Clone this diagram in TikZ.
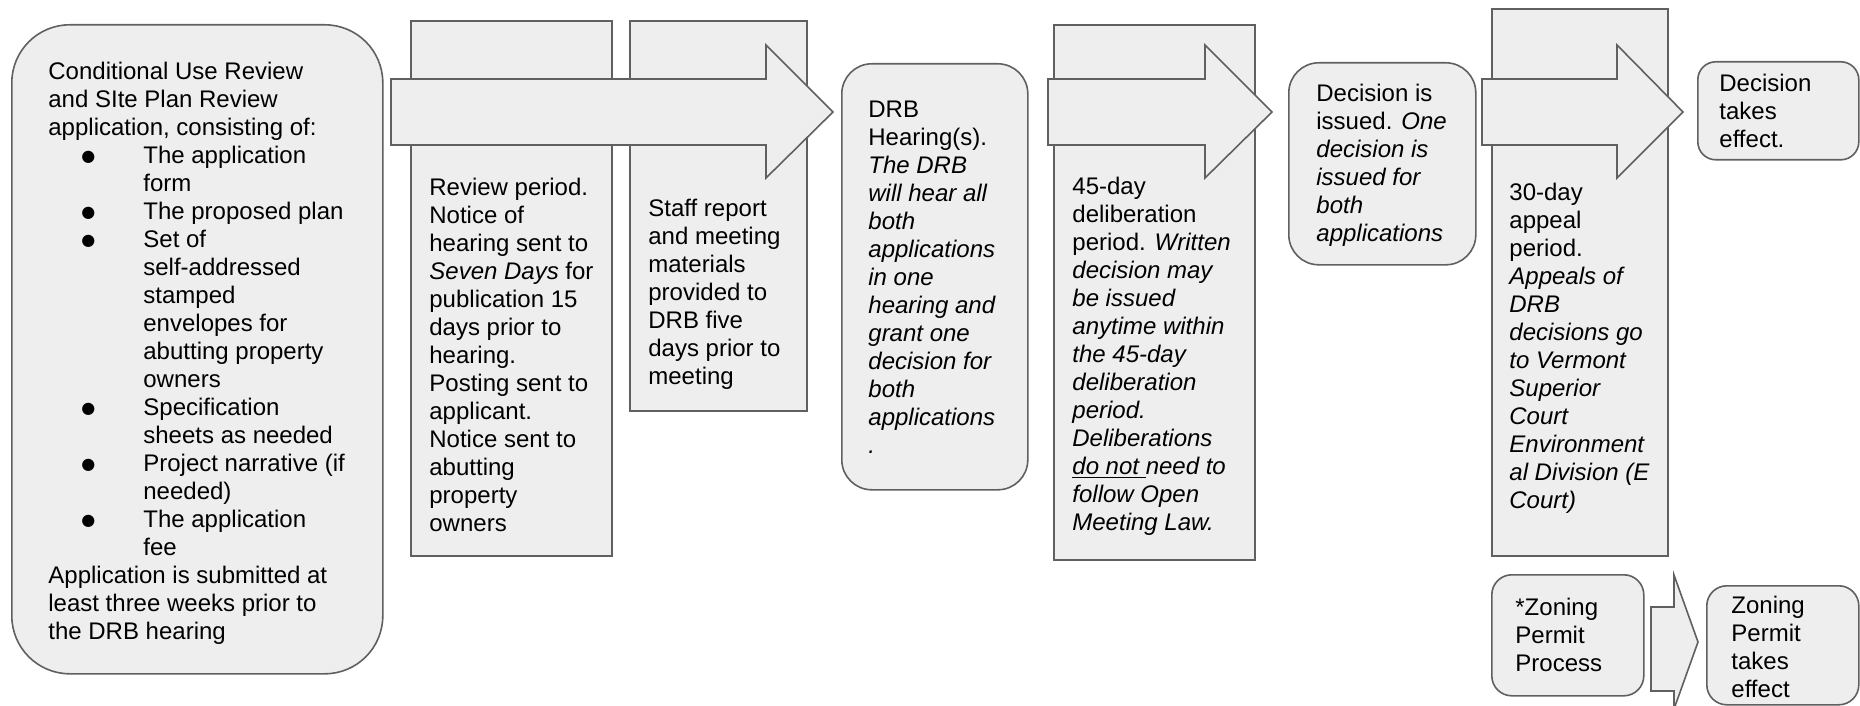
\documentclass[tikz,border=0pt]{standalone}
\usepackage{fontspec}
\setmainfont{Liberation Sans}
\newfontfamily\bulletfont{DejaVu Sans}
\definecolor{boxfill}{RGB}{238,238,238}
\definecolor{boxline}{RGB}{96,96,96}
% bullet item line and continuation line of the application list
\newcommand{\itembul}{\makebox[47.5pt][l]{\hspace*{16.5pt}\raisebox{1.2pt}{\bulletfont\fontsize{8pt}{8pt}\selectfont ●}}}
\newcommand{\itemcont}{\hspace*{47.5pt}}
\begin{document}
\begin{tikzpicture}[x=0.5pt,y=-0.5pt,
  shapebox/.style={draw=boxline,fill=boxfill,line width=0.8pt,inner sep=0pt,anchor=north west},
  blockarrow/.style={draw=boxline,fill=boxfill,line width=0.8pt},
  txt/.style={anchor=north west,inner sep=0pt,align=left,font=\fontsize{12pt}{14pt}\selectfont}]
\clip (0,0) rectangle (1860,706);

% application box
\node[shapebox,rounded corners=29pt,minimum width=185.5pt,minimum height=324.5pt] (app) at (11,24) {};
\node[txt] (apptxt) at (48,59.4) {\strut Conditional Use Review\\
and SIte Plan Review\\
application, consisting of:\\
\itembul The application\\
\itemcont form\\
\itembul The proposed plan\\
\itembul Set of\\
\itemcont self-addressed\\
\itemcont stamped\\
\itemcont envelopes for\\
\itemcont abutting property\\
\itemcont owners\\
\itembul Specification\\
\itemcont sheets as needed\\
\itembul Project narrative (if\\
\itemcont needed)\\
\itembul The application\\
\itemcont fee\\
Application is submitted at\\
least three weeks prior to\\
the DRB hearing};

% review period and staff report
\node[shapebox,minimum width=100.5pt,minimum height=267.5pt] (review) at (410,20) {};
\node[shapebox,minimum width=88.5pt,minimum height=195pt] (staff) at (629,20) {};
\draw[blockarrow] (391,79) -- (766,79) -- (766,45) -- (833,112) -- (766,178) -- (766,145) -- (391,145) -- cycle;
\node[txt] (reviewtxt) at (429,175.4) {\strut Review period.\\ Notice of\\ hearing sent to\\ \textit{Seven Days} for\\ publication 15\\ days prior to\\ hearing.\\ Posting sent to\\ applicant.\\ Notice sent to\\ abutting\\ property\\ owners};
\node[txt] (stafftxt) at (648,196.4) {\strut Staff report\\ and meeting\\ materials\\ provided to\\ DRB five\\ days prior to\\ meeting};

% hearing
\node[shapebox,rounded corners=15pt,minimum width=93pt,minimum height=213pt] (drb) at (841,63) {};
\node[txt] (drbtxt) at (868,97.4) {\strut DRB\\ Hearing(s).\\ \textit{The DRB}\\ \textit{will hear all}\\ \textit{both}\\ \textit{applications}\\ \textit{in one}\\ \textit{hearing and}\\ \textit{grant one}\\ \textit{decision for}\\ \textit{both}\\ \textit{applications}\\ \textit{.}};

% deliberation
\node[shapebox,minimum width=100.5pt,minimum height=267.5pt] (delib) at (1053,24) {};
\draw[blockarrow] (1048,79) -- (1205,79) -- (1205,45) -- (1272,112) -- (1205,178) -- (1205,145) -- (1048,145) -- cycle;
\node[txt] (delibtxt) at (1072,174.4) {\strut 45-day\\ deliberation\\ period. \textit{Written}\\ \textit{decision may}\\ \textit{be issued}\\ \textit{anytime within}\\ \textit{the 45-day}\\ \textit{deliberation}\\ \textit{period.}\\ \textit{Deliberations}\\ \textit{\underline{do not\ }need to}\\ \textit{follow Open}\\ \textit{Meeting Law.}};

% decision
\node[shapebox,rounded corners=15pt,minimum width=93.5pt,minimum height=101pt] (issued) at (1288,62) {};
\node[txt] (issuedtxt) at (1316,81.4) {\strut Decision is\\ issued. \textit{One}\\ \textit{decision is}\\ \textit{issued for}\\ \textit{both}\\ \textit{applications}};

% appeal period
\node[shapebox,minimum width=88pt,minimum height=273.5pt] (appeal) at (1491,8) {};
\draw[blockarrow] (1482,79) -- (1617,79) -- (1617,45) -- (1683,112) -- (1617,178) -- (1617,145) -- (1482,145) -- cycle;
\node[txt] (appealtxt) at (1509,180.4) {\strut 30-day\\ appeal\\ period.\\ \textit{Appeals of}\\ \textit{DRB}\\ \textit{decisions go}\\ \textit{to Vermont}\\ \textit{Superior}\\ \textit{Court}\\ \textit{Environment}\\ \textit{al Division (E}\\ \textit{Court)}};

% decision takes effect
\node[shapebox,rounded corners=9pt,minimum width=80.5pt,minimum height=49pt] (effect) at (1697,61) {};
\node[txt] (effecttxt) at (1719,71.4) {\strut Decision\\ takes\\ effect.};

% zoning permit
\node[shapebox,rounded corners=10pt,minimum width=76pt,minimum height=60.5pt] (zproc) at (1491,574) {};
\node[txt] (zproctxt) at (1515,595.4) {\strut *Zoning\\ Permit\\ Process};
\draw[blockarrow] (1651,607) -- (1674,607) -- (1674,575) -- (1698,642) -- (1674,709) -- (1674,691) -- (1651,691) -- cycle;
\node[shapebox,rounded corners=10pt,minimum width=76pt,minimum height=59.5pt] (zeff) at (1706,585) {};
\node[txt] (zefftxt) at (1731,593.4) {\strut Zoning\\ Permit\\ takes\\ effect};
\end{tikzpicture}
\end{document}
